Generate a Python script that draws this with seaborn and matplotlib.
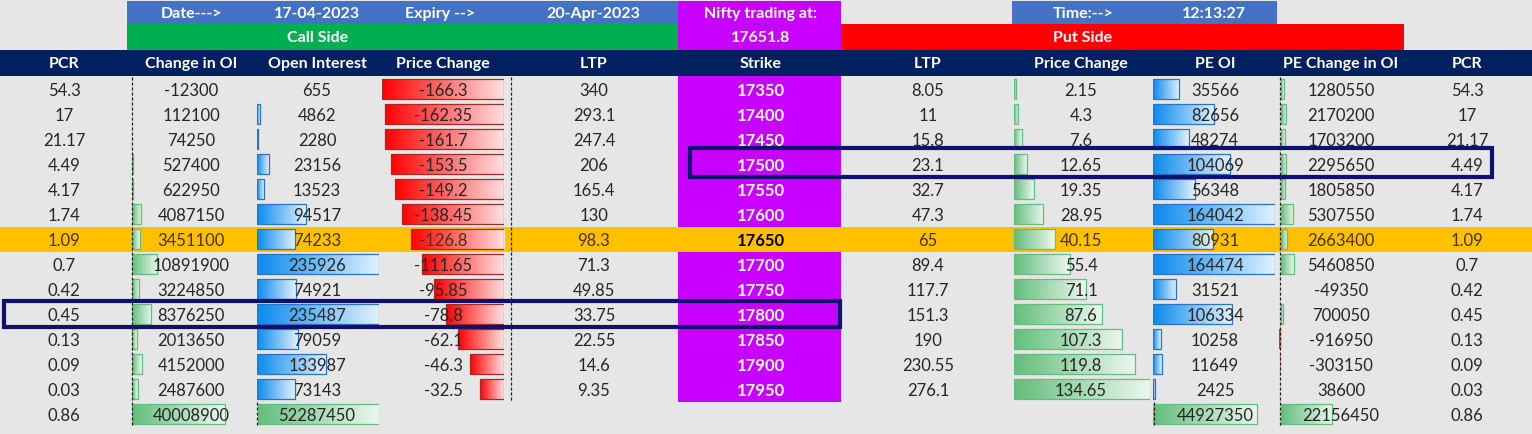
"""Option chain snapshot table (Nifty, 17-04-2023) redrawn with seaborn data bars."""
import numpy as np
import pandas as pd
import matplotlib
matplotlib.use("Agg")
import matplotlib.pyplot as plt
from matplotlib.colors import LinearSegmentedColormap, to_rgb
from matplotlib.patches import Rectangle
import seaborn as sns

sns.set_theme(style="white")
plt.rcParams['font.family'] = ['Lato', 'DejaVu Sans']

# ---- data ----
strikes = [17350, 17400, 17450, 17500, 17550, 17600, 17650, 17700, 17750, 17800, 17850, 17900, 17950]
pcr = [54.3, 17, 21.17, 4.49, 4.17, 1.74, 1.09, 0.7, 0.42, 0.45, 0.13, 0.09, 0.03]
ce_chg_oi = [-12300, 112100, 74250, 527400, 622950, 4087150, 3451100, 10891900, 3224850, 8376250, 2013650, 4152000, 2487600]
ce_oi = [655, 4862, 2280, 23156, 13523, 94517, 74233, 235926, 74921, 235487, 79059, 133987, 73143]
ce_price_chg = [-166.3, -162.35, -161.7, -153.5, -149.2, -138.45, -126.8, -111.65, -95.85, -78.8, -62.1, -46.3, -32.5]
ce_ltp = [340, 293.1, 247.4, 206, 165.4, 130, 98.3, 71.3, 49.85, 33.75, 22.55, 14.6, 9.35]
pe_ltp = [8.05, 11, 15.8, 23.1, 32.7, 47.3, 65, 89.4, 117.7, 151.3, 190, 230.55, 276.1]
pe_price_chg = [2.15, 4.3, 7.6, 12.65, 19.35, 28.95, 40.15, 55.4, 71.1, 87.6, 107.3, 119.8, 134.65]
pe_oi = [35566, 82656, 48274, 104069, 56348, 164042, 80931, 164474, 31521, 106334, 10258, 11649, 2425]
pe_chg_oi = [1280550, 2170200, 1703200, 2295650, 1805850, 5307550, 2663400, 5460850, -49350, 700050, -916950, -303150, 38600]

total_pcr = 0.86
total_ce_chg_oi = 40008900
total_ce_oi = 52287450
total_pe_oi = 44927350
total_pe_chg_oi = 22156450

col_labels = ["PCR", "Change in OI", "Open Interest", "Price Change", "LTP", "Strike",
              "LTP", "Price Change", "PE OI", "PE Change in OI", "PCR"]
trade_date = "17-04-2023"
expiry = "20-Apr-2023"
spot = 17651.8
snap_time = "12:13:27"
atm_strike = 17650
marked_put_strike = 17500
marked_call_strike = 17800

# ---- layout (pixels) ----
W, H = 1532, 435
ROW0, ROW_H = 77.5, 25
N = len(strikes) + 1            # strikes + totals row
BG = "#e7e6e6"
NAVY = "#002060"
PURPLE = "#c800ff"
ORANGE = "#ffc000"
TXT = "#262626"
ATM_TXT = "#4a3300"
XC = [64, 191, 317, 443, 594, 761, 928, 1081, 1215, 1341, 1467]

row_keys = [str(s) for s in strikes] + ["Total"]
atm_i = strikes.index(atm_strike)


def fmt(v):
    return f"{v:.10g}"


def rc(i):
    return ROW0 + ROW_H * (i + 0.5)


fig = plt.figure(figsize=(W / 100, H / 100), dpi=100)
fig.patch.set_facecolor(BG)

bg = fig.add_axes([0, 0, 1, 1], zorder=0)
bg.set_xlim(0, W); bg.set_ylim(H, 0); bg.axis("off")


def band(ax, x0, x1, y0, y1, color):
    ax.add_patch(Rectangle((x0, y0), x1 - x0, y1 - y0, facecolor=color, edgecolor="none"))


band(bg, 0, W, 0, H, BG)
band(bg, 127, 678, 2, 25, "#4472c4")
band(bg, 1012, 1277, 2, 25, "#4472c4")
band(bg, 127, 678, 25, 51, "#00b050")
band(bg, 841, 1404, 25, 51, "#ff0000")
band(bg, 678, 841, 2, ROW0 + ROW_H * len(strikes), PURPLE)
band(bg, 0, W, 51, 76.5, NAVY)
band(bg, 0, W, ROW0 + ROW_H * atm_i, ROW0 + ROW_H * (atm_i + 1), ORANGE)


def fade(color, amount=0.88):
    c = np.array(to_rgb(color))
    return tuple(c + (1 - c) * amount)


def bar_column(values, x0, px, vmax, color, edge, neg=False):
    left = x0 - px if neg else x0
    ax = fig.add_axes([left / W, 1 - (ROW0 + N * ROW_H) / H, px / W, N * ROW_H / H], zorder=1)
    df = pd.DataFrame({"row": row_keys, "val": values})
    sns.barplot(data=df, x="val", y="row", order=row_keys, orient="h", color=color,
                width=0.78, errorbar=None, ax=ax)
    xlim = (-vmax, 0) if neg else (0, vmax)
    cmap = LinearSegmentedColormap.from_list("g", [color, fade(color)])
    red = LinearSegmentedColormap.from_list("r", ["#ff0000", fade("#ff0000")])
    for p in list(ax.patches):
        w = p.get_width()
        if not np.isfinite(w) or abs(w) / vmax * px < 0.6:
            p.set_visible(False)
            continue
        x, y, h = p.get_x(), p.get_y(), p.get_height()
        lo, hi = min(x, x + w), max(x, x + w)
        opposite = w < 0 and not neg
        im = ax.imshow(np.linspace(0, 1, 256).reshape(1, -1), extent=[lo, hi, y + h, y],
                       cmap=red if opposite else cmap, aspect="auto", zorder=1,
                       interpolation="bilinear")
        im.set_clip_path(p)
        p.set_facecolor("none"); p.set_linewidth(0.9); p.set_zorder(2)
        p.set_edgecolor("none" if opposite else edge)
        if opposite:
            p.set_clip_on(False); im.set_clip_on(False)
    ax.set_xlim(*xlim); ax.set_ylim(N - 0.5, -0.5)
    ax.axis("off"); ax.patch.set_alpha(0)
    return ax


GREEN, BLUE, RED = "#63be7b", "#0a8aef", "#ff0000"
nan = np.nan
bar_column(ce_chg_oi + [total_ce_chg_oi], 132, 121, total_ce_oi, GREEN, "#63be7b")
bar_column(ce_oi + [nan], 257, 122, max(ce_oi), BLUE, "#2b74c2")
bar_column([nan] * len(strikes) + [total_ce_oi], 258, 121, total_ce_oi, GREEN, "#63be7b")
bar_column(ce_price_chg + [nan], 504, 122, -min(ce_price_chg), RED, "#a52a2a", neg=True)
bar_column(pe_price_chg + [nan], 1014, 136, max(pe_price_chg), GREEN, "#63be7b")
bar_column(pe_oi + [nan], 1153, 122, max(pe_oi), BLUE, "#2b74c2")
bar_column([nan] * len(strikes) + [total_pe_oi], 1153, 121, total_ce_oi, GREEN, "#63be7b")
bar_column(pe_chg_oi + [total_pe_chg_oi], 1281, 121, total_ce_oi, GREEN, "#63be7b")

# ---- text / rules layer ----
top = fig.add_axes([0, 0, 1, 1], zorder=3)
top.set_xlim(0, W); top.set_ylim(H, 0); top.axis("off"); top.patch.set_alpha(0)

hdr = dict(color="white", fontweight="bold", fontsize=11.5, ha="center", va="center")
top.text(192, 14, "Date--->", **hdr)
top.text(317, 14, trade_date, **hdr)
top.text(440, 14, "Expiry -->", **hdr)
top.text(593, 14, expiry, **hdr)
top.text(761, 14, "Nifty trading at:", **hdr)
top.text(1083, 14, "Time:-->", **hdr)
top.text(1214, 14, snap_time, **hdr)
top.text(318, 38, "Call Side", **hdr)
top.text(761, 38, fmt(spot), **hdr)
top.text(1083, 38, "Put Side", **hdr)
for x, lab in zip(XC, col_labels):
    top.text(x, 64, lab, **hdr)

columns = [pcr, ce_chg_oi, ce_oi, ce_price_chg, ce_ltp, strikes,
           pe_ltp, pe_price_chg, pe_oi, pe_chg_oi, pcr]
for j, (x, vals) in enumerate(zip(XC, columns)):
    for i, v in enumerate(vals):
        atm = i == atm_i
        if j == 5:
            top.text(x, rc(i) + 1, fmt(v), ha="center", va="center", fontsize=12,
                     fontweight="bold", color="black" if atm else "white")
        else:
            top.text(x, rc(i) + 1, fmt(v), ha="center", va="center", fontsize=12,
                     color=ATM_TXT if atm else TXT)

tot = len(strikes)
for x, v in [(XC[0], total_pcr), (XC[1], total_ce_chg_oi), (XC[2], total_ce_oi),
             (XC[8], total_pe_oi), (XC[9], total_pe_chg_oi), (XC[10], total_pcr)]:
    top.text(x, rc(tot) + 1, fmt(v), ha="center", va="center", fontsize=12, color=TXT)

dash = dict(color="#222222", lw=0.9, linestyle=(0, (2.5, 1.5)))
y_end = ROW0 + ROW_H * N
y_rows = ROW0 + ROW_H * len(strikes)
top.plot([131.5, 131.5], [ROW0, y_end], **dash)
top.plot([510.5, 510.5], [ROW0, y_rows], **dash)
top.plot([257, 257], [y_rows, y_end], **dash)
top.plot([1280, 1280], [ROW0, y_end], **dash)
top.plot([1154, 1154], [y_rows, y_end], **dash)

# highlighted rows
pi = strikes.index(marked_put_strike)
ci = strikes.index(marked_call_strike)
top.add_patch(Rectangle((690, ROW0 + ROW_H * pi - 3.5), 802, ROW_H + 3.5, fill=False,
                        edgecolor="#10106e", lw=3))
top.add_patch(Rectangle((4, ROW0 + ROW_H * ci - 1), 836, ROW_H + 1.5, fill=False,
                        edgecolor="#10106e", lw=3))

fig.savefig("out.png", dpi=100, facecolor=BG)
